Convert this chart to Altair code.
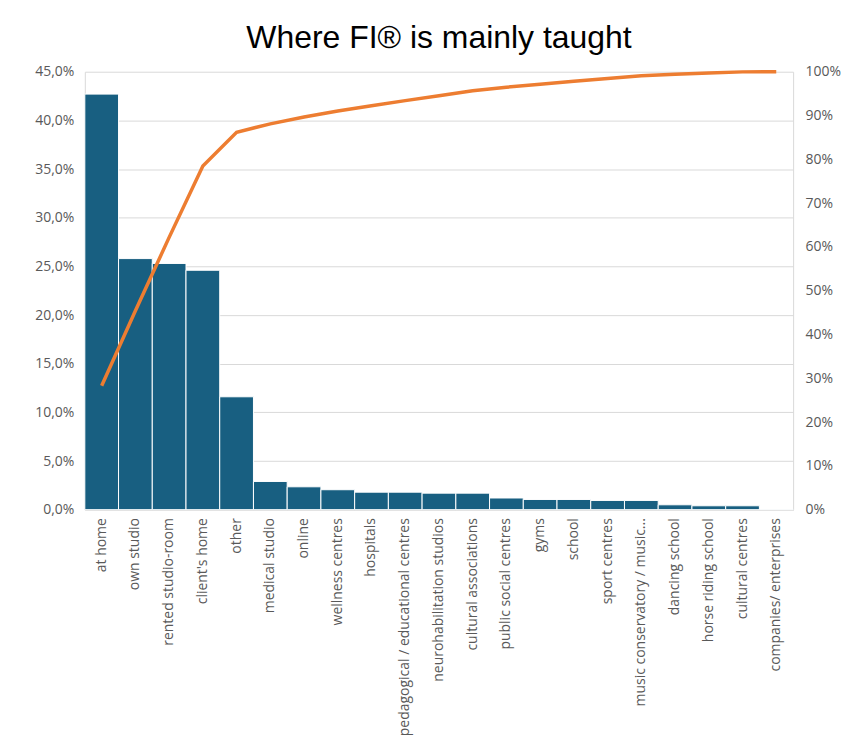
import altair as alt
import pandas as pd

categories = [
    "at home", "own studio", "rented studio-room", "client's home", "other",
    "medical studio", "online", "wellness centres", "hospitals",
    "pedagogical / educational centres", "neurohabilitation studios",
    "cultural associations", "public social centres", "gyms", "school",
    "sport centres", "music conservatory / music...", "dancing school",
    "horse riding school", "cultural centres", "companies/ enterprises",
]
shares = [
    42.7, 25.8, 25.3, 24.6, 11.6,
    2.9, 2.35, 2.05, 1.8,
    1.8, 1.7,
    1.7, 1.2, 1.05, 1.05,
    0.95, 0.95, 0.5,
    0.4, 0.4, 0.05,
]

df = pd.DataFrame({"category": categories, "share": shares, "order": list(range(len(categories)))})

FONT = "Open Sans"
GREY = "#595959"
BAR = "#185F81"
LINE = "#ED7D31"

x_enc = alt.X(
    "category:N",
    sort=categories,
    scale=alt.Scale(paddingInner=0, paddingOuter=0),
    axis=alt.Axis(
        title=None, labelAngle=-90, labelFontSize=14, labelColor=GREY,
        labelFont=FONT, ticks=False, domainColor="#D9D9D9", labelPadding=8,
        labelLimit=300,
    ),
)

base = alt.Chart(df)

bars = base.mark_bar(color=BAR, stroke="#FFFFFF", strokeWidth=1).encode(
    x=x_enc,
    y=alt.Y(
        "share:Q",
        scale=alt.Scale(domain=[0, 45], nice=False),
        axis=alt.Axis(
            title=None, values=list(range(0, 50, 5)), orient="left",
            labelExpr="replace(format(datum.value, '.1f'), '.', ',') + '%'",
            labelFontSize=14, labelColor=GREY, labelFont=FONT, ticks=False,
            domainColor="#D9D9D9", gridColor="#D9D9D9", grid=True,
            minExtent=77, maxExtent=77, labelPadding=11,
        ),
    ),
)

line = base.transform_window(
    cum="sum(share)", sort=[alt.SortField("order")], frame=[None, 0]
).transform_joinaggregate(
    total="sum(share)"
).transform_calculate(
    cum_pct="100 * datum.cum / datum.total"
).mark_line(color=LINE, strokeWidth=3.5).encode(
    x=alt.X("category:N", sort=categories),
    y=alt.Y(
        "cum_pct:Q",
        scale=alt.Scale(domain=[0, 100], nice=False),
        axis=alt.Axis(
            title=None, values=list(range(0, 110, 10)), orient="right",
            labelExpr="datum.value + '%'", labelFontSize=14, labelColor=GREY,
            labelFont=FONT, ticks=False, grid=False, domainColor="#D9D9D9",
            labelPadding=12,
        ),
    ),
    order="order:Q",
)

chart = alt.layer(bars, line).resolve_scale(y="independent").properties(
    width=710,
    height=439,
    padding={"top": 13, "left": 0, "right": 0, "bottom": 5},
    title=alt.TitleParams(
        "Where FI® is mainly taught", fontSize=32, font="Liberation Sans",
        color="#000000", fontWeight="normal", anchor="middle", offset=10,
    ),
).configure_view(stroke=None)

chart.save("out.html", embed_options={"renderer": "svg", "actions": False})
